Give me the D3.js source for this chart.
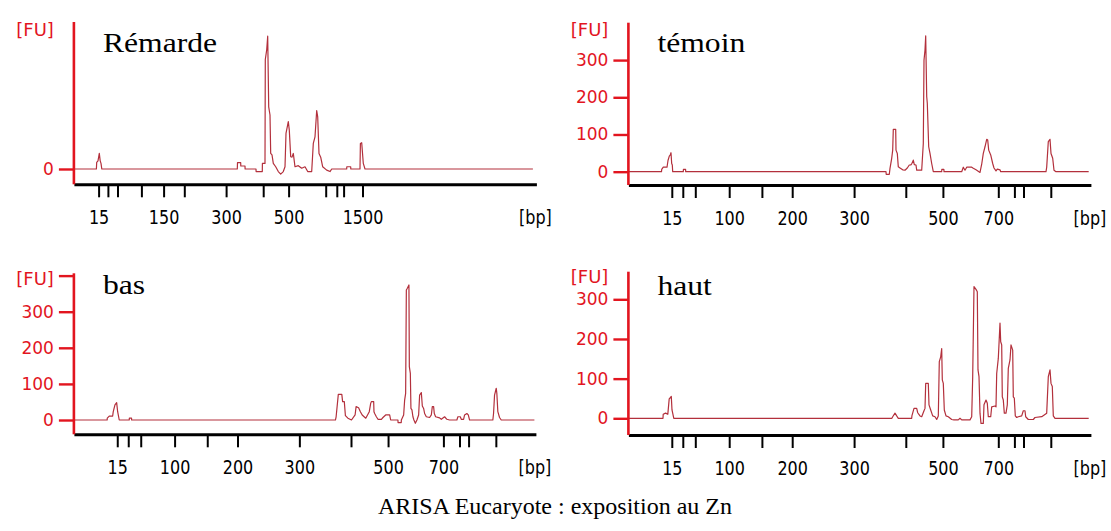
<!DOCTYPE html>
<html><head><meta charset="utf-8">
<script src="https://cdn.jsdelivr.net/npm/d3@7"></script>
<style>body{margin:0;background:#fff}svg{display:block}</style>
</head><body>
<svg id="c" width="1111" height="531"></svg>
<script>
// DNA 1000 ladder (bp) and the migration time (s) where each ladder peak sits
const ladderBp = [15,25,50,100,150,200,300,400,500,700,850,1000,1500];
const ladderTimeRemarde = [44.94,46.8,48.72,53.5,57.94,62.08,70.44,77.86,82.94,90.36,92.58,93.94,97.72];
const ladderTimeOthers  = [48.68,50.88,53.38,60.16,66.7,72.76,85.14,95.48,102.9,113.98,117.2,119.02,124.48];
const labelsRemarde = [15,150,300,500,1500];
const labelsOthers  = [15,100,200,300,500,700];
const yTicksRemarde = [0];
const yTicksOthers  = [0,100,200,300];
const panelNames = ["Rémarde","témoin","bas","haut"];
const chartTitle = "ARISA Eucaryote : exposition au Zn";

// electropherograms: [time (s), fluorescence (FU)]
const remarde = [[40,0],[44.5,0],[44.56,18],[44.82,22],[45.08,42],[45.26,22],[45.42,15],[45.58,0],
[72.68,0],[72.72,17],[73.36,17],[73.38,8],[74.22,8],[74.24,0],
[76.42,0],[76.44,-7],[77.68,-7],[77.7,15],[78.22,15],[78.28,296],[78.56,322],[78.76,359],[78.96,168],[79.22,146],[79.36,42],[79.62,38],[79.88,15],[80.36,6],[80.88,-7],[81.36,-14],[81.88,-7],[82.22,6],[82.42,96],[82.88,128],[83.08,105],[83.36,33],[83.62,32],[83.88,42],[84.22,6],[84.88,9],[85.56,2],[86.22,6],[86.76,-7],[87.56,-7],[87.88,69],[88.22,87],[88.56,158],[88.76,141],[89.02,42],[89.36,32],[89.76,6],[90.56,-3],[91.22,-7],[91.56,0],
[94.56,0],[94.58,6],[95.36,6],[95.38,0],[97.22,0],[97.3,69],[97.56,71],[97.88,15],[98.22,0],[131.8,0]];

const temoin = [[40,0],[46.62,0],[46.66,6],[46.98,12],[47.72,12],[47.92,30],[48.18,42],[48.38,45],[48.52,51],[48.66,22],[48.78,18],[48.86,0],
[50.98,0],[51.0,6],[51.44,6],[51.46,0],
[91.52,0],[91.56,-7],[92.18,-7],[92.32,9],[92.66,36],[92.86,58],[92.98,114],[93.46,114],[93.52,58],[93.78,49],[93.98,13],[94.32,10],[94.86,5],[95.32,4],[95.78,10],[96.18,18],[96.46,18],[96.66,21],[96.98,31],[97.18,19],[97.52,18],[97.66,4],[98.66,4],[98.98,76],[99.12,300],[99.32,327],[99.46,365],[99.66,202],[99.78,184],[100.06,67],[100.32,49],[100.66,22],[100.98,0],
[102.66,0],[102.68,6],[103.1,6],[103.12,0],
[106.66,0],[106.98,12],[107.32,4],[107.66,12],[108.66,12],[108.98,9],[109.52,5],[110.32,-2],[110.66,20],[110.98,49],[111.32,67],[111.66,87],[111.86,85],[112.06,58],[112.46,45],[112.86,22],[113.12,10],[113.52,2],[113.78,7],[114.32,5],[114.46,0],
[123.52,0],[123.66,12],[123.98,81],[124.32,87],[124.52,49],[124.86,36],[125.12,4],[125.52,0],[132.06,0]];

const bas = [[40,0],[46.66,0],[46.68,5],[47.08,11],[47.76,11],[47.88,23],[48.22,42],[48.56,48],[48.76,23],[49.08,0],
[51.08,0],[51.1,5],[51.54,5],[51.56,0],
[92.36,0],[92.5,9],[92.94,71],[93.64,71],[93.8,51],[94.14,51],[94.36,12],[94.86,5],[95.58,0],[96.3,14],[96.5,37],[97.0,34],[97.36,23],[97.72,14],[98.44,5],[99.14,23],[99.42,46],[99.56,51],[100.02,51],[100.08,23],[100.22,18],[100.56,9],[100.88,2],[101.56,2],[101.88,7],[102.42,14],[103.22,14],[103.42,0],[104.88,0],[104.9,-7],[105.54,-7],[105.56,0],[106.02,14],[106.22,55],[106.42,74],[106.56,360],[106.76,365],[107.08,374],[107.16,148],[107.36,129],[107.48,32],[107.68,28],[107.88,9],[108.08,0],[108.36,-9],[108.68,0],[109.02,14],[109.22,69],[109.56,76],[109.76,39],[110.02,32],[110.22,18],[110.56,9],[111.22,7],[111.56,14],[111.76,37],[112.02,37],[112.16,18],[112.42,9],[113.22,6],[113.56,2],[114.22,9],[114.68,2],[115.22,0],[116.68,0],[116.88,9],[117.36,9],[117.56,2],[118.02,2],[118.22,14],[118.68,18],[118.96,14],[119.22,0],[123.88,0],[124.02,18],[124.22,69],[124.56,88],[124.68,74],[124.88,23],[125.22,7],[125.56,0],[132.2,0]];

const haut = [[40,0],[46.92,0],[46.96,10],[47.44,13],[47.88,10],[48.16,49],[48.58,55],[48.72,21],[49.08,0],
[92.7,0],[92.86,4],[93.32,13],[93.66,6],[93.98,0],
[96.66,0],[96.7,6],[97.12,25],[97.66,25],[97.86,14],[98.32,6],[98.66,4],[99.12,19],[99.32,25],[99.46,88],[99.98,88],[100.12,34],[100.46,21],[100.86,6],[101.32,4],[101.66,-3],[101.98,6],[102.18,143],[102.46,155],[102.66,176],[102.78,97],[102.98,88],[103.18,21],[103.52,6],[103.98,4],[104.66,-3],[105.12,-4],[105.98,-4],[106.32,0],[106.66,-4],[108.32,-4],[108.66,4],[108.86,105],[109.12,332],[109.52,325],[109.78,319],[109.92,122],[110.12,105],[110.32,13],[110.52,-13],[110.98,-13],[111.12,34],[111.52,46],[111.78,38],[111.98,4],[112.46,4],[112.66,29],[113.32,31],[113.52,29],[113.66,113],[113.98,151],[114.32,240],[114.46,193],[114.66,185],[114.78,54],[114.98,46],[115.18,13],[115.52,13],[115.78,34],[115.98,126],[116.32,147],[116.52,185],[116.86,172],[116.98,54],[117.18,51],[117.38,6],[117.66,2],[117.98,4],[118.66,6],[118.98,19],[119.32,19],[119.46,4],[119.98,-3],[120.98,-3],[121.32,2],[122.66,4],[123.66,13],[123.98,105],[124.32,122],[124.52,88],[124.78,80],[124.98,6],[125.32,0],[132.06,0]];

const RED = "#e2151f", TRACE = "#b3303c";
const timeDomain = [40, 132.5];
const panels = [
  {name:panelNames[0], data:remarde, ladderT:ladderTimeRemarde, labels:labelsRemarde, yTicks:yTicksRemarde,
   left:73.9, width:462.5, top:22, axisY:184.3, yDom:[-41.4,397.3], titleY:51.7, fuY:29.3},
  {name:panelNames[1], data:temoin, ladderT:ladderTimeOthers, labels:labelsOthers, yTicks:yTicksOthers,
   left:628.4, width:462.5, top:22.7, axisY:185, yDom:[-35.8,400.5], titleY:51.7, fuY:29.3},
  {name:panelNames[2], data:bas, ladderT:ladderTimeOthers, labels:labelsOthers, yTicks:yTicksOthers.concat([400]),
   left:73.9, width:462, top:273.3, axisY:434.3, yDom:[-39.6,406.4], titleY:294.3, fuY:278.3},
  {name:panelNames[3], data:haut, ladderT:ladderTimeOthers, labels:labelsOthers, yTicks:yTicksOthers,
   left:628.4, width:462.5, top:271.7, axisY:435, yDom:[-42.1,369.6], titleY:295, fuY:276.7}
];

const svg = d3.select("#c");
const font = "'DejaVu Sans', Verdana, sans-serif";
const serif = "'Liberation Serif','Times New Roman',serif";

panels.forEach(p => {
  const x = d3.scaleLinear().domain(timeDomain).range([p.left, p.left + p.width]);
  const y = d3.scaleLinear().domain(p.yDom).range([p.axisY, p.top]);
  const g = svg.append("g");

  // trace
  g.append("path").datum(p.data)
    .attr("fill","none").attr("stroke",TRACE).attr("stroke-width",1.2).attr("stroke-linejoin","round")
    .attr("d", d3.line().x(d=>x(d[0])).y(d=>y(d[1])));

  // x axis (ladder ticks)
  const xa = d3.axisBottom(x).tickValues(p.ladderT).tickSize(13).tickSizeOuter(0)
    .tickFormat((d,i) => p.labels.includes(ladderBp[i]) ? String(ladderBp[i]) : "");
  const gx = g.append("g").attr("transform",`translate(0,${p.axisY})`).call(xa);
  gx.select(".domain").attr("stroke","#000").attr("stroke-width",3);
  gx.selectAll(".tick line").attr("stroke","#000").attr("stroke-width",2);
  gx.selectAll(".tick text").attr("fill","#000").attr("font-family",font).attr("font-size",16)
    .attr("dy",0).attr("y",40/1.22).attr("transform","scale(1,1.22)");

  // y axis
  const ya = d3.axisLeft(y).tickValues(p.yTicks).tickSize(15).tickPadding(5).tickSizeOuter(0)
    .tickFormat(d => d === 400 ? "" : d);
  const gy = g.append("g").attr("transform",`translate(${p.left},0)`).call(ya);
  gy.select(".domain").attr("stroke",RED).attr("stroke-width",2.6)
    .attr("d", `M0,${p.top}V${p.axisY}`);
  gy.selectAll(".tick line").attr("stroke",RED).attr("stroke-width",2.4);
  gy.selectAll(".tick text").attr("fill",RED).attr("font-family",font).attr("font-size",17);

  // unit labels
  g.append("text").attr("x",p.left-20).attr("y",p.fuY).attr("text-anchor","end")
    .attr("dominant-baseline","central").attr("fill",RED).attr("font-family",font).attr("font-size",18).text("[FU]");
  g.append("text").attr("text-anchor","middle").attr("fill","#000").attr("font-family",font).attr("font-size",16)
    .attr("transform",`translate(${p.left+p.width-1},${p.axisY+40}) scale(1,1.22)`).text("[bp]");

  // panel title
  g.append("text").attr("font-family",serif).attr("font-size",28).attr("fill","#000")
    .attr("transform",`translate(${p.left+29},${p.titleY}) scale(1.13,1)`).text(p.name);
});

svg.append("text").attr("x",555).attr("y",514).attr("text-anchor","middle")
  .attr("font-family",serif).attr("font-size",24).attr("fill","#000").text(chartTitle);
</script>
</body></html>
